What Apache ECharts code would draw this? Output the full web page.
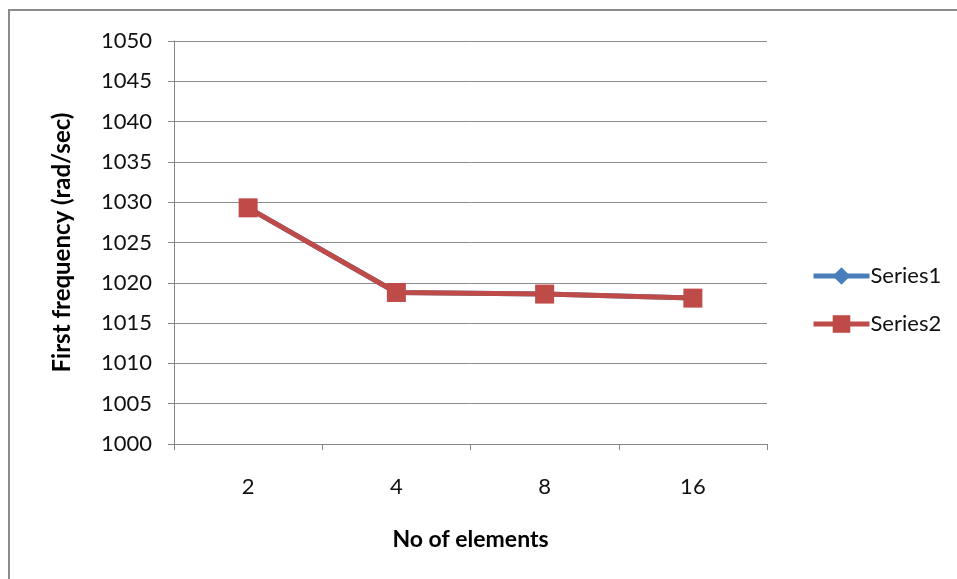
<!DOCTYPE html>
<html>
<head>
<meta charset="utf-8">
<script src="https://cdn.jsdelivr.net/npm/echarts@6/dist/echarts.min.js"></script>
<style>
  html, body { margin: 0; padding: 0; background: #fff; }
  #chart { width: 957px; height: 579px; }
</style>
</head>
<body>
<div id="chart"></div>
<script>
// Number of elements in the mesh
const categories = ['2', '4', '8', '16'];
// First natural frequency (rad/sec) for each mesh
const series1Values = [1029.3, 1018.8, 1018.6, 1018.1];
const series2Values = [1029.3, 1018.8, 1018.6, 1018.1];
const yTicks = { min: 1000, max: 1050, interval: 5 };

const font = 'Lato, "Open Sans", sans-serif';
const chart = echarts.init(document.getElementById('chart'));

chart.setOption({
  animation: false,
  backgroundColor: '#fff',
  graphic: [{
    type: 'rect',
    shape: { x: 9, y: 10, width: 1000, height: 700 },
    style: { fill: 'none', stroke: '#8c8c8c', lineWidth: 2 },
    silent: true
  }],
  grid: { left: 174, right: 190, top: 41, bottom: 135 },
  xAxis: {
    type: 'category',
    data: categories,
    boundaryGap: true,
    name: 'No of elements',
    nameLocation: 'middle',
    nameGap: 84,
    nameTextStyle: { fontFamily: font, fontSize: 23, fontWeight: 'bold', color: '#000' },
    axisLine: { lineStyle: { color: '#868686', width: 1 } },
    axisTick: { show: true, length: 6, alignWithLabel: false, lineStyle: { color: '#868686' } },
    axisLabel: { fontFamily: font, fontSize: 22, color: '#111', margin: 32 }
  },
  yAxis: {
    type: 'value',
    min: yTicks.min,
    max: yTicks.max,
    interval: yTicks.interval,
    name: 'First frequency (rad/sec)',
    nameLocation: 'middle',
    nameGap: 100,
    nameTextStyle: { fontFamily: font, fontSize: 24, fontWeight: 'bold', color: '#000' },
    axisLine: { show: true, lineStyle: { color: '#868686', width: 1 } },
    axisTick: { show: true, length: 6, lineStyle: { color: '#868686' } },
    axisLabel: {
      fontFamily: font, fontSize: 22, color: '#111', margin: 22,
      formatter: v => String(v)
    },
    splitLine: { lineStyle: { color: '#8c8c8c', width: 1 } }
  },
  legend: {
    orient: 'vertical',
    left: 806,
    top: 260,
    itemWidth: 56,
    itemHeight: 22,
    itemGap: 26,
    lineStyle: { width: 5 },
    textStyle: { fontFamily: font, fontSize: 22, color: '#111', padding: [0, 0, 0, -4] },
    data: ['Series1', 'Series2']
  },
  series: [
    {
      name: 'Series1',
      type: 'line',
      data: series1Values,
      symbol: 'diamond',
      symbolSize: 16,
      lineStyle: { color: '#4A7EBB', width: 5 },
      itemStyle: { color: '#4A7EBB' }
    },
    {
      name: 'Series2',
      type: 'line',
      data: series2Values,
      symbol: 'rect',
      symbolSize: 19,
      lineStyle: { color: '#BE4B48', width: 5 },
      itemStyle: { color: '#BE4B48' }
    }
  ]
});
</script>
</body>
</html>
